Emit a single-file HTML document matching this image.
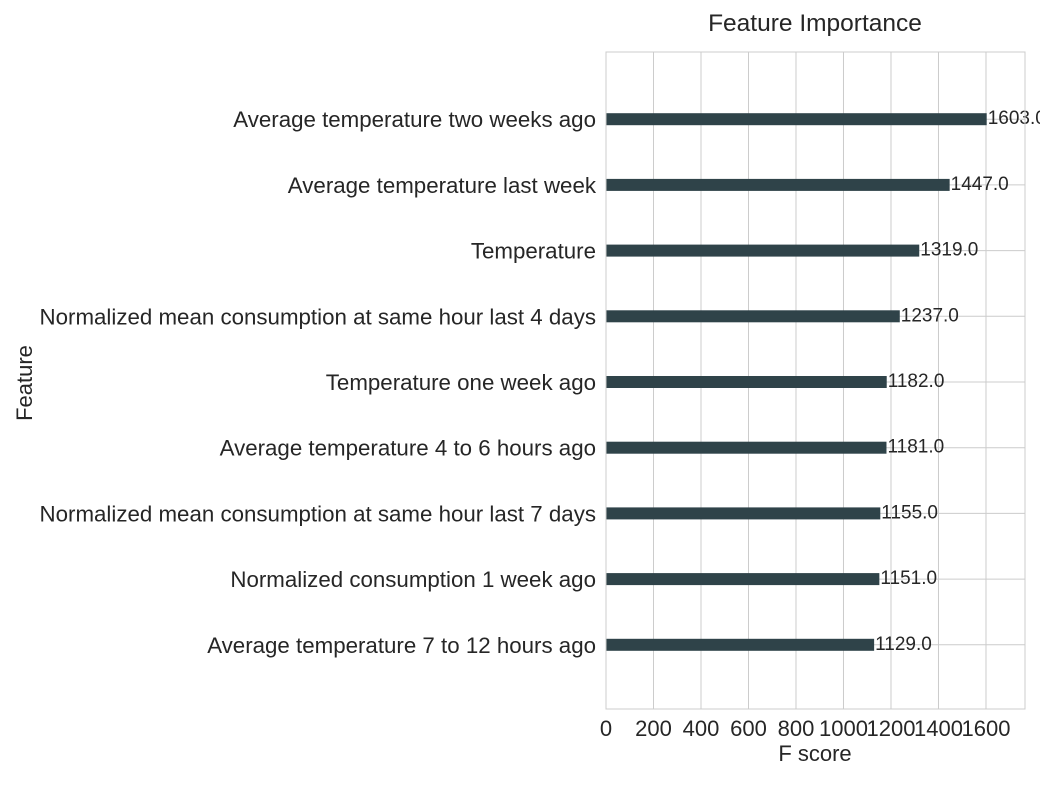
<!DOCTYPE html>
<html><head><meta charset="utf-8"><style>
body{margin:0;background:#fff;}
svg{font-family:"Liberation Sans",Arial,sans-serif;}
</style></head><body>
<svg id="chart" width="1040" height="780">
<text x="815" y="31" font-size="24.5" text-anchor="middle" fill="#262626">Feature Importance</text>
<g id="grid"></g><g id="bars"></g><g id="labels"></g>
<rect x="606" y="52" width="419" height="657" fill="none" stroke="#ccc" stroke-width="1"/>
<text x="815" y="761" font-size="22" text-anchor="middle" fill="#262626">F score</text>
<text x="32" y="383" font-size="22" text-anchor="middle" fill="#262626" transform="rotate(-90 32 383)">Feature</text>
</svg>
<script>
const features=["Average temperature two weeks ago","Average temperature last week","Temperature","Normalized mean consumption at same hour last 4 days","Temperature one week ago","Average temperature 4 to 6 hours ago","Normalized mean consumption at same hour last 7 days","Normalized consumption 1 week ago","Average temperature 7 to 12 hours ago"];
const scores=[1603,1447,1319,1237,1182,1181,1155,1151,1129];
const xTicks=[0,200,400,600,800,1000,1200,1400,1600];
const NS="http://www.w3.org/2000/svg";
const x0=606,kx=380.7/1603,y0=53.5,step=657/10;
const X=v=>x0+v*kx, Y=i=>y0+step*(i+1);
function mk(t,a,p){const e=document.createElementNS(NS,t);for(const k in a)e.setAttribute(k,a[k]);p.appendChild(e);return e;}
const g=document.getElementById('grid'),b=document.getElementById('bars'),l=document.getElementById('labels');
xTicks.forEach(v=>{
 const ln=mk('line',{x1:X(v),x2:X(v),y1:52,y2:709,stroke:'#ccc','stroke-width':1},g);
 
 
 const t=mk('text',{x:X(v),y:736,'font-size':22,'text-anchor':'middle',fill:'#262626'},l);
 t.textContent=v;
 
 
});
features.forEach((f,i)=>{
 const y=Y(i);
 const ln=mk('line',{x1:606,x2:1025,y1:y,y2:y,stroke:'#ccc','stroke-width':1},g);
 
 
 const r=mk('rect',{x:x0,y:y-6,width:X(scores[i])-x0,height:12,fill:'#2f4349'},b);
 
 
 const v=mk('text',{x:X(scores[i])+1,y:y+5,'font-size':19,fill:'#262626'},l);
 v.textContent=scores[i].toFixed(1);
 
 
 const t=mk('text',{x:596,y:y+8,'font-size':22.3,'text-anchor':'end',fill:'#262626'},l);
 t.textContent=f;
 
 
});
</script>
</body></html>
